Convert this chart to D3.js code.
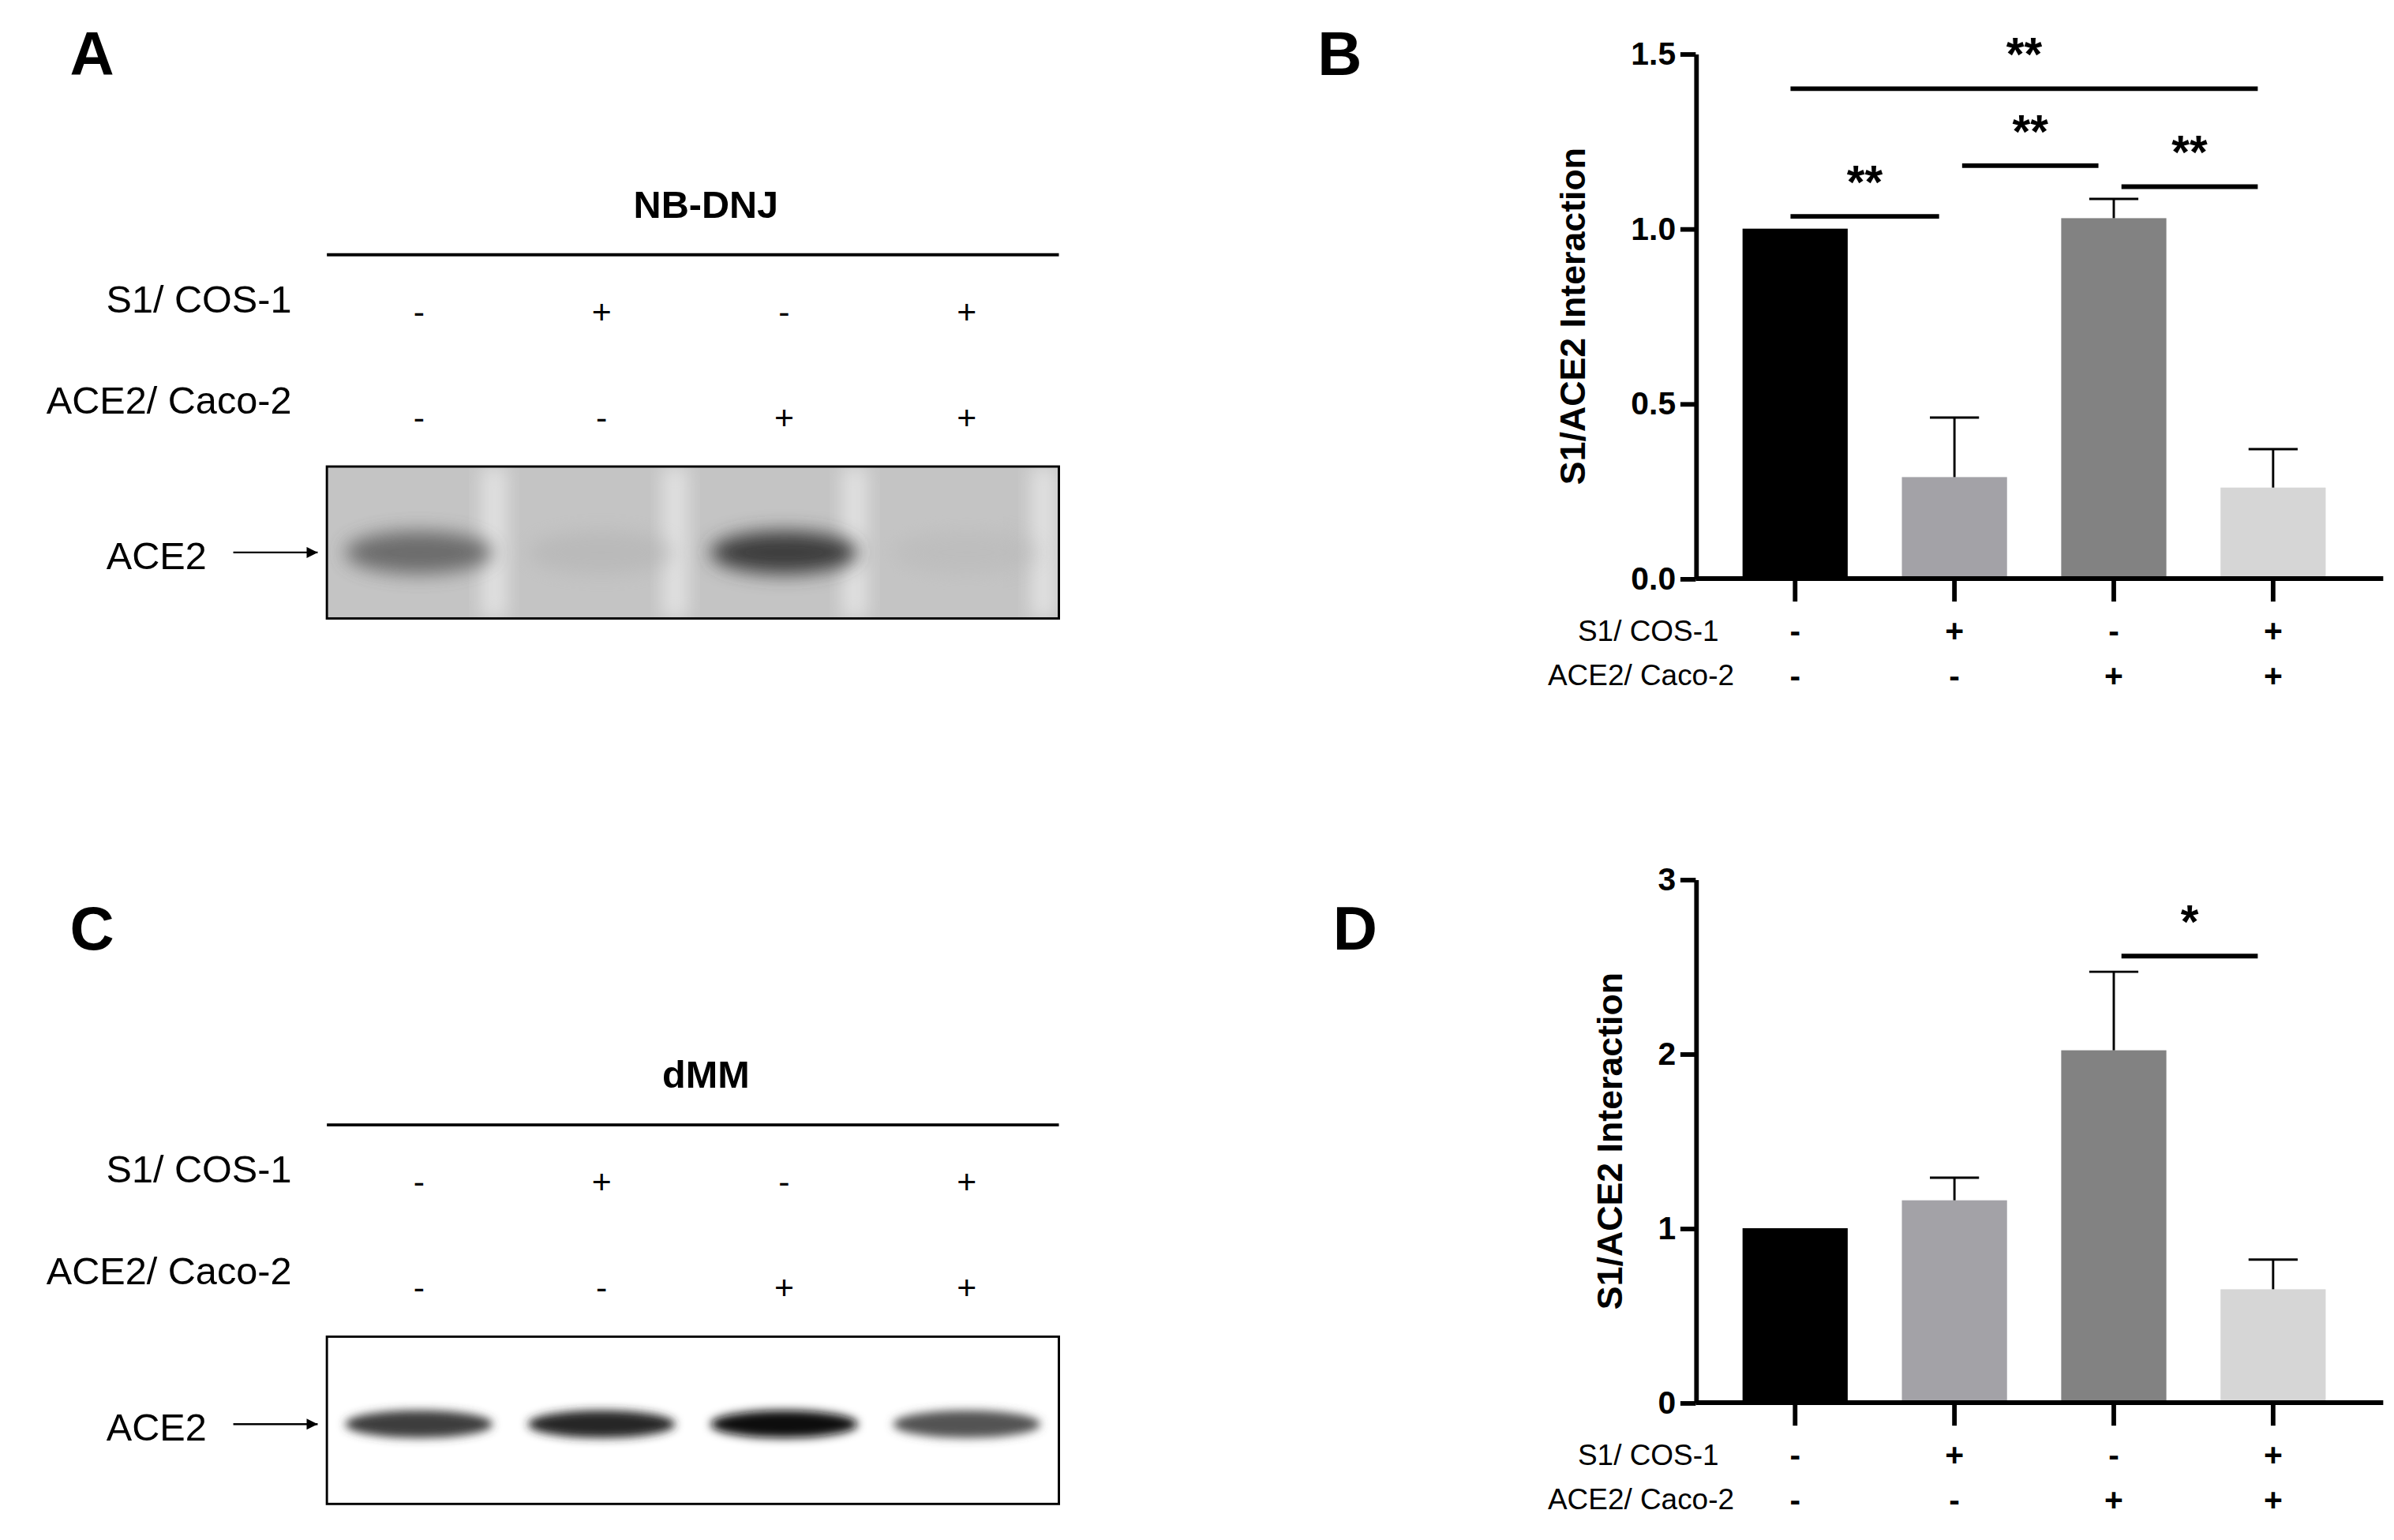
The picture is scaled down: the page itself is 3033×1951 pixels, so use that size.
<!doctype html>
<html>
<head>
<meta charset="UTF-8">
<script src="https://d3js.org/d3.v7.min.js"></script>
<style>body{margin:0;background:#fff}</style>
</head>
<body>
<script>
// data
var lanes = ["1", "2", "3", "4"];
var s1Signs = ["-", "+", "-", "+"];
var aceSigns = ["-", "-", "+", "+"];
var barColors = ["#000000", "#a3a2a7", "#828282", "#d6d6d6"];
var nbMeans = [1.0, 0.29, 1.03, 0.26];
var nbErrTop = [1.0, 0.46, 1.085, 0.37];
var dmmMeans = [1.0, 1.16, 2.02, 0.65];
var dmmErrTop = [1.0, 1.29, 2.47, 0.82];
var nbSig = [{a: 0, b: 1, y: 1.035, t: "**"}, {a: 1, b: 2, y: 1.18, t: "**"},
             {a: 2, b: 3, y: 1.12, t: "**"}, {a: 0, b: 3, y: 1.40, t: "**"}];
var dmmSig = [{a: 2, b: 3, y: 2.56, t: "*"}];
var nbBands = [0.55, 0.12, 0.7, 0.08];
var dmmBands = [0.7, 0.8, 0.95, 0.6];

var svg = d3.select("body").append("svg")
  .attr("width", 3033).attr("height", 1951)
  .attr("viewBox", "0 0 1560 1003.5");

var defs = svg.append("defs");
defs.append("filter").attr("id", "blur").attr("x", "-50%").attr("y", "-50%")
  .attr("width", "200%").attr("height", "200%")
  .append("feGaussianBlur").attr("stdDeviation", 6);
defs.append("filter").attr("id", "blur2").attr("x", "-50%").attr("y", "-50%")
  .attr("width", "200%").attr("height", "200%")
  .append("feGaussianBlur").attr("stdDeviation", 3);
defs.append("marker").attr("id", "arr").attr("viewBox", "0 0 10 10")
  .attr("refX", 10).attr("refY", 5).attr("markerWidth", 6).attr("markerHeight", 6)
  .attr("orient", "auto").append("path").attr("d", "M0,0L10,5L0,10Z");

// panel letters
[["A", 60, 35], ["B", 873, 35], ["C", 60, 605], ["D", 883, 605]].forEach(function(l) {
  svg.append("text").attr("x", l[1]).attr("y", l[2]).attr("dy", "0.35em")
    .attr("text-anchor", "middle").attr("font-family", "Liberation Sans, Arial")
    .attr("font-weight", "bold").attr("font-size", 40).text(l[0]);
});

var laneX = d3.scalePoint().domain(lanes).range([273, 630]);

function blot(top, title, bands, dark) {
  var g = svg.append("g").attr("font-family", "Liberation Sans Narrow, Liberation Sans, Arial");
  g.append("text").attr("x", 460).attr("y", top).attr("dy", "0.35em").attr("text-anchor", "middle")
    .attr("font-weight", "bold").attr("font-size", 25).text(title);
  g.append("line").attr("x1", 213).attr("x2", 690).attr("y1", top + 33).attr("y2", top + 33)
    .attr("stroke", "#000").attr("stroke-width", 2);
  g.append("text").attr("x", 190).attr("y", top + 62).attr("dy", "0.35em").attr("text-anchor", "end")
    .attr("font-size", 25).text("S1/ COS-1");
  g.append("text").attr("x", 190).attr("y", top + 128).attr("dy", "0.35em").attr("text-anchor", "end")
    .attr("font-size", 25).text("ACE2/ Caco-2");
  g.selectAll(".s1").data(lanes).enter().append("text")
    .attr("x", function(d) { return laneX(d); }).attr("y", top + 70).attr("dy", "0.35em")
    .attr("text-anchor", "middle").attr("font-size", 22)
    .text(function(d, i) { return s1Signs[i]; });
  g.selectAll(".ac").data(lanes).enter().append("text")
    .attr("x", function(d) { return laneX(d); }).attr("y", top + 139).attr("dy", "0.35em")
    .attr("text-anchor", "middle").attr("font-size", 22)
    .text(function(d, i) { return aceSigns[i]; });
  var by = top + 171, bh = dark ? 99 : 109;
  var bandY = dark ? by + 56 : by + 57;
  var clipId = "clip" + top;
  defs.append("clipPath").attr("id", clipId).append("rect")
    .attr("x", 213).attr("y", by).attr("width", 477).attr("height", bh);
  var inner = g.append("g").attr("clip-path", "url(#" + clipId + ")");
  inner.append("rect").attr("x", 213).attr("y", by).attr("width", 477).attr("height", bh)
    .attr("fill", dark ? "#c4c4c4" : "#ffffff");
  if (dark) {
    [322, 440, 557, 680].forEach(function(x) {
      inner.append("rect").attr("x", x - 8).attr("y", by).attr("width", 16).attr("height", bh)
        .attr("fill", "#e2e2e2").attr("filter", "url(#blur)");
    });
  }
  inner.selectAll(".band").data(lanes).enter().append("ellipse")
    .attr("cx", function(d) { return laneX(d); }).attr("cy", bandY)
    .attr("rx", 48).attr("ry", dark ? 14 : 9)
    .attr("fill", function(d, i) { return d3.interpolateGreys(0.35 + bands[i] * 0.65); })
    .attr("opacity", function(d, i) { return dark ? 0.3 + bands[i] : 1; })
    .attr("filter", dark ? "url(#blur)" : "url(#blur2)");
  g.append("rect").attr("x", 213).attr("y", by).attr("width", 477).attr("height", bh)
    .attr("fill", "none").attr("stroke", "#000").attr("stroke-width", 1.5);
  g.append("text").attr("x", 102).attr("y", bandY + 2).attr("dy", "0.35em").attr("text-anchor", "middle")
    .attr("font-size", 25).text("ACE2");
  g.append("line").attr("x1", 152).attr("x2", 207).attr("y1", bandY).attr("y2", bandY)
    .attr("stroke", "#000").attr("stroke-width", 1.2).attr("marker-end", "url(#arr)");
}
blot(133, "NB-DNJ", nbBands, true);
blot(700, "dMM", dmmBands, false);

var xBand = d3.scaleBand().domain(lanes).range([1122, 1529]).paddingInner(0.34).paddingOuter(0.13);

function barChart(y0, y1, maxV, ticks, fmt, means, errs, sig, fixed) {
  var y = d3.scaleLinear().domain([0, maxV]).range([y1, y0]);
  var g = svg.append("g").attr("font-family", "Liberation Sans, Arial");
  g.selectAll(".bar").data(lanes).enter().append("rect")
    .attr("x", function(d) { return xBand(d); }).attr("width", xBand.bandwidth())
    .attr("y", function(d, i) { return y(means[i]); })
    .attr("height", function(d, i) { return y1 - y(means[i]); })
    .attr("fill", function(d, i) { return barColors[i]; });
  lanes.forEach(function(d, i) {
    if (errs[i] <= means[i]) return;
    var cx = xBand(d) + xBand.bandwidth() / 2;
    g.append("line").attr("x1", cx).attr("x2", cx).attr("y1", y(means[i])).attr("y2", y(errs[i]))
      .attr("stroke", "#000").attr("stroke-width", 1.5);
    g.append("line").attr("x1", cx - 16).attr("x2", cx + 16).attr("y1", y(errs[i])).attr("y2", y(errs[i]))
      .attr("stroke", "#000").attr("stroke-width", 1.5);
  });
  var ax = g.append("g").attr("transform", "translate(1105,0)")
    .call(d3.axisLeft(y).tickValues(ticks).tickFormat(d3.format(fmt)).tickSize(10).tickSizeOuter(0));
  ax.select(".domain").attr("stroke-width", 3);
  ax.selectAll(".tick line").attr("stroke-width", 3);
  ax.selectAll("text").attr("font-size", 21).attr("font-weight", "bold").attr("x", -13);
  g.append("line").attr("x1", 1105).attr("x2", 1553).attr("y1", y1).attr("y2", y1)
    .attr("stroke", "#000").attr("stroke-width", 3);
  lanes.forEach(function(d) {
    var cx = xBand(d) + xBand.bandwidth() / 2;
    g.append("line").attr("x1", cx).attr("x2", cx).attr("y1", y1).attr("y2", y1 + 15)
      .attr("stroke", "#000").attr("stroke-width", 3);
  });
  g.append("text").attr("transform", "translate(" + (fixed ? 1049 : 1025) + "," + ((y0 + y1) / 2) + ") rotate(-90)")
    .attr("text-anchor", "middle").attr("dy", "0.35em").attr("font-size", 23).attr("font-weight", "bold")
    .text("S1/ACE2 Interaction");
  g.append("text").attr("x", 1120).attr("y", y1 + 34).attr("dy", "0.35em").attr("text-anchor", "end")
    .attr("font-size", 19).text("S1/ COS-1");
  g.append("text").attr("x", 1130).attr("y", y1 + 63).attr("dy", "0.35em").attr("text-anchor", "end")
    .attr("font-size", 19).text("ACE2/ Caco-2");
  g.selectAll(".r1").data(lanes).enter().append("text")
    .attr("x", function(d) { return xBand(d) + xBand.bandwidth() / 2; }).attr("y", y1 + 34)
    .attr("dy", "0.35em").attr("text-anchor", "middle").attr("font-size", 21).attr("font-weight", "bold")
    .text(function(d, i) { return s1Signs[i]; });
  g.selectAll(".r2").data(lanes).enter().append("text")
    .attr("x", function(d) { return xBand(d) + xBand.bandwidth() / 2; }).attr("y", y1 + 63)
    .attr("dy", "0.35em").attr("text-anchor", "middle").attr("font-size", 21).attr("font-weight", "bold")
    .text(function(d, i) { return aceSigns[i]; });
  sig.forEach(function(s) {
    var xa = xBand(lanes[s.a]) + xBand.bandwidth() / 2 - 3;
    var xb = xBand(lanes[s.b]) + xBand.bandwidth() / 2 - 10;
    if (s.a > 0) xa += 8;
    g.append("line").attr("x1", xa).attr("x2", xb).attr("y1", y(s.y)).attr("y2", y(s.y))
      .attr("stroke", "#000").attr("stroke-width", 3);
    g.append("text").attr("x", (xa + xb) / 2).attr("y", y(s.y) - 12).attr("text-anchor", "middle")
      .attr("font-size", 30).attr("font-weight", "bold").text(s.t);
  });
}
barChart(35, 377, 1.5, [0, 0.5, 1.0, 1.5], ".1f", nbMeans, nbErrTop, nbSig, false);
barChart(573, 914, 3, [0, 1, 2, 3], "d", dmmMeans, dmmErrTop, dmmSig, true);
</script>
</body>
</html>
